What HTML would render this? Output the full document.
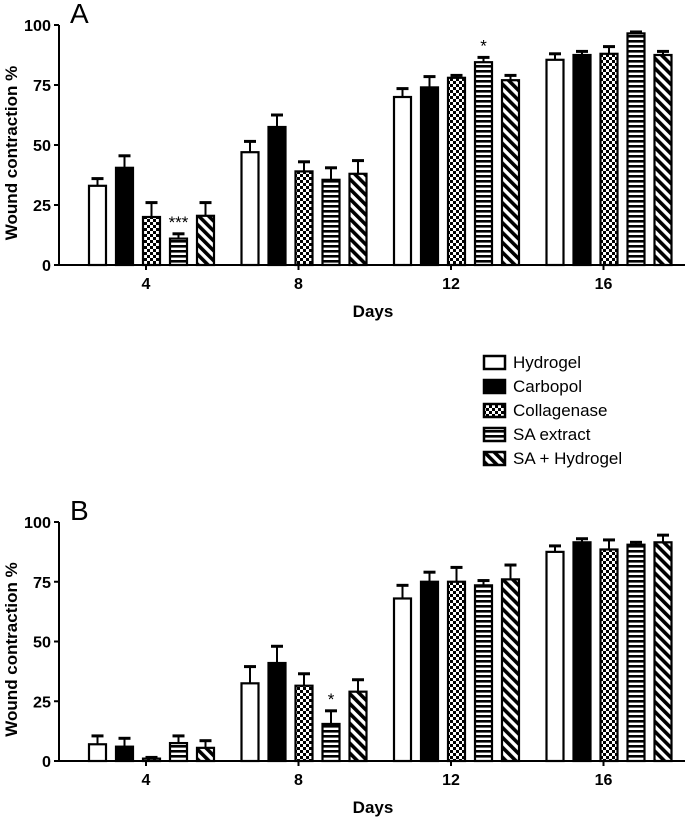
<!DOCTYPE html>
<html><head><meta charset="utf-8"><style>
body{margin:0;background:#fff}
svg text{font-family:"Liberation Sans",Arial,sans-serif}
</style></head><body>
<svg id="fig" width="685" height="818" viewBox="0 0 685 818" xmlns="http://www.w3.org/2000/svg">
<defs>
<pattern id="pCheck" width="6" height="6" patternUnits="userSpaceOnUse"><rect width="6" height="6" fill="#fff"/><rect width="3" height="3" fill="#000"/><rect x="3" y="3" width="3" height="3" fill="#000"/></pattern>
<pattern id="pHoriz" width="6" height="5" patternUnits="userSpaceOnUse"><rect width="6" height="5" fill="#fff"/><rect width="6" height="2.6" fill="#000"/></pattern>
<pattern id="pDiag" width="7" height="7" patternUnits="userSpaceOnUse" patternTransform="rotate(-45)"><rect width="7" height="7" fill="#fff"/><rect width="3.6" height="7" fill="#000"/></pattern>
</defs>
<g id="panels"></g>
<g id="legend"></g>
</svg>
<script>
const days = ["4","8","12","16"];
const series = ["Hydrogel","Carbopol","Collagenase","SA extract","SA + Hydrogel"];
const yTicks = [0,25,50,75,100];
const aHydrogel=[33,47,70,85.5], aHydrogelErr=[3,4.5,3.5,2.5];
const aCarbopol=[40.5,57.5,74,87.5], aCarbopolErr=[5,5,4.5,1.5];
const aCollagenase=[20,39,78,88], aCollagenaseErr=[6,4,1,3];
const aSA=[11,35.5,84.5,96.5], aSAErr=[2,5,2,0.6];
const aSAH=[20.5,38,77,87.5], aSAHErr=[5.5,5.5,2,1.5];
const bHydrogel=[7,32.5,68,87.5], bHydrogelErr=[3.5,7,5.5,2.5];
const bCarbopol=[6,41,75,91.5], bCarbopolErr=[3.5,7,4,1.5];
const bCollagenase=[1,31.5,75,88.5], bCollagenaseErr=[0.5,5,6,4];
const bSA=[7.5,15.5,73.5,90.5], bSAErr=[3,5.5,2,1];
const bSAH=[5.5,29,76,91.5], bSAHErr=[3,5,6,3];
const aStars=[{g:0,s:3,t:"***"},{g:2,s:3,t:"*"}];
const bStars=[{g:1,s:3,t:"*"}];

const NS="http://www.w3.org/2000/svg";
const fills=["#fff","#000","url(#pCheck)","url(#pHoriz)","url(#pDiag)"];
function mk(tag,attrs,parent){const e=document.createElementNS(NS,tag);for(const k in attrs)e.setAttribute(k,attrs[k]);parent.appendChild(e);return e;}
const root=document.getElementById("panels");

function panel(letter,top,bottom,vals,errs,stars){
  const g=mk("g",{},root);
  
  
  const x0=59,x1=685;
  const y=v=>bottom-(v/100)*(bottom-top);
  const gc=i=>146+i*152.5;
  const bx=(i,s)=>gc(i)-3+(s-2)*27;
  const bw=17;
  const L=mk("text",{x:70,y:top-2,"font-size":"28"},g);L.textContent=letter;
  
  
  const ya=mk("line",{x1:x0,x2:x0,y1:top,y2:bottom,stroke:"#000","stroke-width":2},g);
  
  
  yTicks.forEach(t=>{
    mk("line",{x1:x0-5,x2:x0,y1:y(t),y2:y(t),stroke:"#000","stroke-width":2},g);
    const tx=mk("text",{x:x0-8,y:y(t)+6,"font-size":"16","font-weight":"bold","text-anchor":"end",textLength:t==100?27:(t==0?9:18),lengthAdjust:"spacingAndGlyphs"},g);
    tx.textContent=t;
    
    
  });
  const xa=mk("line",{x1:x0,x2:x1,y1:bottom,y2:bottom,stroke:"#000","stroke-width":2},g);
  
  
  days.forEach((d,i)=>{
    mk("line",{x1:gc(i),x2:gc(i),y1:bottom,y2:bottom+5,stroke:"#000","stroke-width":2},g);
    const tx=mk("text",{x:gc(i),y:bottom+24,"font-size":"16","font-weight":"bold","text-anchor":"middle"},g);
    tx.textContent=d;
    
    
  });
  const yt=mk("text",{x:0,y:0,"font-size":"17","font-weight":"bold","text-anchor":"middle",transform:`translate(17,${(top+bottom)/2+8}) rotate(-90)`},g);
  yt.textContent="Wound contraction %";
  
  
  const xt=mk("text",{x:373,y:bottom+52,"font-size":"17","font-weight":"bold","text-anchor":"middle"},g);
  xt.textContent="Days";
  
  
  vals.forEach((arr,s)=>{
    arr.forEach((v,i)=>{
      const x=bx(i,s), yv=y(v), ye=y(v+errs[s][i]);
      const eb=mk("line",{x1:x+bw/2,x2:x+bw/2,y1:yv,y2:ye,stroke:"#000","stroke-width":2},g);
      
      
      mk("line",{x1:x+bw/2-6,x2:x+bw/2+6,y1:ye,y2:ye,stroke:"#000","stroke-width":3},g);
      const r=mk("rect",{x:x,y:yv,width:bw,height:bottom-yv,fill:fills[s],stroke:"#000","stroke-width":2.2},g);
      
      
    });
  });
  stars.forEach(st=>{
    const v=vals[st.s][st.g]+errs[st.s][st.g];
    const tx=mk("text",{x:bx(st.g,st.s)+bw/2,y:y(v)-6,"font-size":"17","text-anchor":"middle"},g);
    tx.textContent=st.t;
    
    
  });
}
panel("A",25,265,[aHydrogel,aCarbopol,aCollagenase,aSA,aSAH],[aHydrogelErr,aCarbopolErr,aCollagenaseErr,aSAErr,aSAHErr],aStars);
panel("B",522,761,[bHydrogel,bCarbopol,bCollagenase,bSA,bSAH],[bHydrogelErr,bCarbopolErr,bCollagenaseErr,bSAErr,bSAHErr],bStars);

const lg=document.getElementById("legend");
series.forEach((s,i)=>{
  const yy=362+i*24;
  const r=mk("rect",{x:484,y:yy-6,width:21,height:13,fill:fills[i],stroke:"#000","stroke-width":2.5},lg);
  
  
  const t=mk("text",{x:513,y:yy+6,"font-size":"17"},lg);
  t.textContent=s;
  
  
});
</script>
</body></html>
